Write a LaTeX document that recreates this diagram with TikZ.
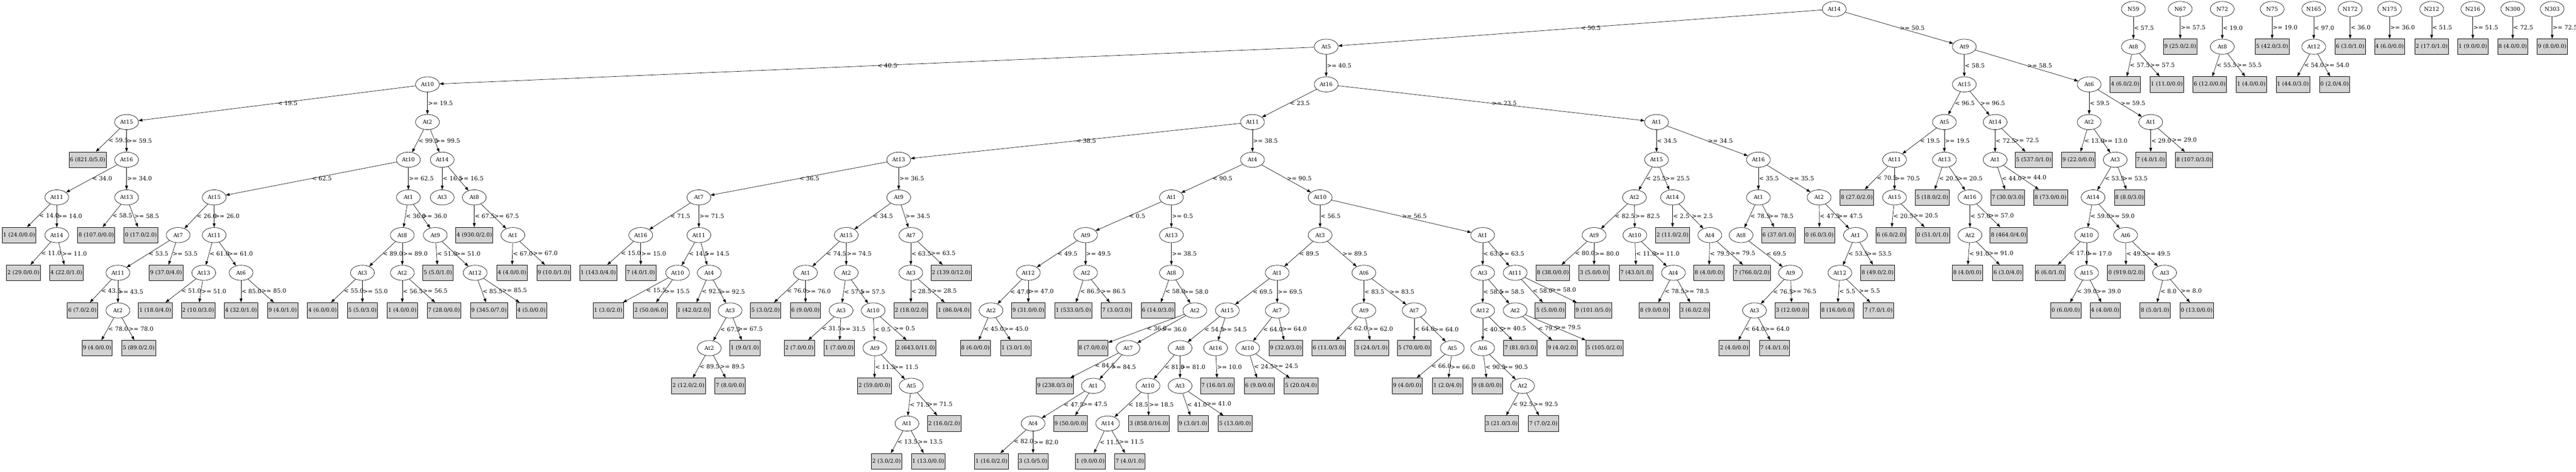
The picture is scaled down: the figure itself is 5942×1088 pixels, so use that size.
\documentclass[tikz,border=0pt]{standalone}
\usepackage{fontspec}
\setmainfont{DejaVu Serif}
\usetikzlibrary{shapes.geometric,arrows.meta}
\definecolor{leafgrey}{RGB}{211,211,211}

\begin{document}
\begin{tikzpicture}[x=1pt,y=1pt,line width=0.8pt,
    >={Triangle[length=9pt,width=6.5pt]},
    every node/.style={font=\fontsize{12.5}{14}\selectfont},
    test/.style={draw,ellipse,minimum width=55pt,minimum height=35pt,inner sep=1pt},
    leaf/.style={draw,fill=leafgrey,minimum height=36pt,inner xsep=2pt,inner ysep=1pt},
    cond/.style={midway,anchor=west,inner sep=1pt,font=\fontsize{13.5}{15}\selectfont}]
    \useasboundingbox (0,0) rectangle (5942,-1088);
    \foreach \id/\x/\lv/\txt in {t/4231/0/At14,tL/3059/1/At5,tR/4531/1/At9,tLL/986/2/At10,tLR/3059/2/At16,
        tLLL/292/3/At15,tLLR/986/3/At2,tLLLR/292/4/At16,tLLLRL/131/5/At11,tLLLRR/292/5/At13,tLLLRLR/131/6/At14,
        tLLRL/942/4/At10,tLLRR/1020/4/At14,tLLRLL/494/5/At15,tLLRLR/942/5/At1,tLLRLLL/411/6/At7,tLLRLLR/494/6/At11,
        tLLRLLLL/272/7/At11,tLLRLLLLR/272/8/At2,tLLRLLRL/470/7/At13,tLLRLLRR/556/7/At6,tLLRLRL/928/6/At8,
        tLLRLRR/1004/6/At9,tLLRLRLL/836/7/At3,tLLRLRLR/928/7/At2,tLLRLRRR/1096/7/At12,tLLRRL/1020/5/At3,
        tLLRRR/1094/5/At8,tLLRRRR/1183/6/At1,
        tLRL/2889/3/At11,tLRR/3821/3/At1,tLRLL/2073/4/At13,tLRLR/2889/4/At4,tLRLLL/1612/5/At7,tLRLLR/2073/5/At9,
        tLRLLLL/1478/6/At16,tLRLLLR/1612/6/At11,tLRLLLRL/1563/7/At10,tLRLLLRR/1636/7/At4,tLRLLLRRR/1684/8/At3,
        tLRLLLRRRL/1636/9/At2,tLRLLRL/1952/6/At15,tLRLLRR/2101/6/At7,tLRLLRLL/1858/7/At1,tLRLLRLR/1952/7/At2,
        tLRLLRLRL/1940/8/At3,tLRLLRLRR/2014/8/At10,tLRLLRLRRL/2018/9/At9,tLRLLRLRRLR/2102/10/At5,
        tLRLLRLRRLRL/2092/11/At1,tLRLLRRL/2101/7/At3,
        tLRLRL/2702/5/At1,tLRLRR/3045/5/At10,tLRLRLL/2504/6/At9,tLRLRLR/2702/6/At13,tLRLRLLL/2372/7/At12,
        tLRLRLLR/2504/7/At2,tLRLRLLLL/2286/8/At2,tLRLRLRR/2702/7/At8,tLRLRLRRR/2756/8/At2,tLRLRLRRRR/2602/9/At7,
        tLRLRLRRRRR/2522/10/At1,tLRLRLRRRRRL/2383/11/At4,tLRLRRL/3045/6/At3,tLRLRRR/3420/6/At1,
        tLRLRRLL/2946/7/At1,tLRLRRLR/3146/7/At6,tLRLRRLLL/2831/8/At15,tLRLRRLLR/2946/8/At7,
        tLRLRRLLLL/2722/9/At8,tLRLRRLLLR/2804/9/At16,tLRLRRLLLLL/2648/10/At10,tLRLRRLLLLR/2722/10/At3,
        tLRLRRLLLLLL/2555/11/At14,tLRLRRLLRL/2878/9/At10,tLRLRRLRL/3146/8/At9,tLRLRRLRR/3262/8/At7,
        tLRLRRLRRR/3350/9/At5,tLRLRRRL/3420/7/At3,tLRLRRRR/3495/7/At11,tLRLRRRLL/3420/8/At12,
        tLRLRRRLR/3495/8/At2,tLRLRRRLLL/3420/9/At6,tLRLRRRLLLR/3512/10/At2,
        tLRRL/3821/4/At15,tLRRR/4056/4/At16,tLRRLL/3770/5/At2,tLRRLR/3858/5/At14,tLRRLLL/3677/6/At9,
        tLRRLLR/3771/6/At10,tLRRLLRR/3860/7/At4,tLRRLRR/3944/6/At4,tLRRRL/4056/5/At1,tLRRRR/4196/5/At2,
        tLRRRLL/4016/6/At8,tLRRRLLL/4130/7/At9,tLRRRLLLL/4047/8/At3,tLRRRRR/4280/6/At1,tLRRRRRL/4244/7/At12,
        tRL/4531/2/At15,tRR/4819/2/At6,tRLL/4485/3/At5,tRLR/4602/3/At14,tRLLL/4370/4/At11,tRLLR/4485/4/At13,
        tRLLLR/4370/5/At15,tRLLRR/4544/5/At16,tRLLRRL/4544/6/At2,tRLRL/4602/4/At1,tRRL/4819/3/At2,
        tRRR/4961/3/At1,tRRLR/4879/4/At3,tRRLRL/4828/5/At14,tRRLRLL/4813/6/At10,tRRLRLR/4903/6/At6,
        tRRLRLLR/4813/7/At15,tRRLRLRR/4993/7/At3,
        nA/4921/0/N59,nAL/4921/1/At8,nB/5029/0/N67,nC/5126/0/N72,nCL/5126/1/At8,nD/5241/0/N75,
        nE/5337/0/N165,nEL/5337/1/At12,nF/5421/0/N172,nG/5512/0/N175,nH/5609/0/N212,nI/5704/0/N216,
        nJ/5796/0/N300,nK/5887/0/N303}
        \node[test] (\id) at (\x,{-20.8-86.9*\lv}) {\txt};
    \foreach \id/\x/\lv/\txt in {tLLLL/202/4/{6 (821.0/5.0)},tLLLRLL/44/6/{1 (24.0/0.0)},
        tLLLRLRL/54/7/{2 (29.0/0.0)},tLLLRLRR/153/7/{4 (22.0/1.0)},tLLLRRL/222/6/{8 (107.0/0.0)},
        tLLLRRR/325/6/{0 (17.0/2.0)},tLLRLLLR/383/7/{9 (37.0/4.0)},tLLRLLLLL/190/8/{6 (7.0/2.0)},
        tLLRLLLLRL/224/9/{9 (4.0/0.0)},tLLRLLLLRR/320/9/{5 (89.0/2.0)},tLLRLLRLL/358/8/{1 (18.0/4.0)},
        tLLRLLRLR/457/8/{2 (10.0/3.0)},tLLRLLRRL/556/8/{4 (32.0/1.0)},tLLRLLRRR/652/8/{9 (4.0/1.0)},
        tLLRLRLLL/744/8/{4 (6.0/0.0)},tLLRLRLLR/836/8/{5 (5.0/3.0)},tLLRLRLRL/928/8/{1 (4.0/0.0)},
        tLLRLRLRR/1024/8/{7 (28.0/0.0)},tLLRLRRL/1010/7/{5 (5.0/1.0)},tLLRLRRRL/1128/8/{9 (345.0/7.0)},
        tLLRLRRRR/1226/8/{4 (5.0/0.0)},tLLRRRL/1094/6/{4 (930.0/2.0)},tLLRRRRL/1181/7/{4 (4.0/0.0)},
        tLLRRRRR/1277/7/{9 (10.0/1.0)},
        tLRLLLLL/1380/7/{1 (143.0/4.0)},tLRLLLLR/1478/7/{7 (4.0/1.0)},tLRLLLRLL/1403/8/{1 (3.0/2.0)},
        tLRLLLRLR/1500/8/{2 (50.0/6.0)},tLRLLLRRL/1599/8/{1 (42.0/2.0)},tLRLLLRRRR/1718/9/{1 (9.0/1.0)},
        tLRLLLRRRLL/1588/10/{2 (12.0/2.0)},tLRLLLRRRLR/1684/10/{7 (8.0/0.0)},tLRLLRLLL/1766/8/{5 (3.0/2.0)},
        tLRLLRLLR/1858/8/{6 (9.0/0.0)},tLRLLRLRLL/1844/9/{2 (7.0/0.0)},tLRLLRLRLR/1936/9/{1 (7.0/0.0)},
        tLRLLRLRRR/2112/9/{2 (643.0/11.0)},tLRLLRLRRLL/2017/10/{2 (59.0/0.0)},
        tLRLLRLRRLRR/2178/11/{2 (16.0/2.0)},tLRLLRLRRLRLL/2045/12/{2 (3.0/2.0)},
        tLRLLRLRRLRLR/2141/12/{1 (13.0/0.0)},tLRLLRRR/2194/7/{2 (139.0/12.0)},tLRLLRRLL/2101/8/{2 (18.0/2.0)},
        tLRLLRRLR/2200/8/{1 (86.0/4.0)},
        tLRLRLLLLL/2250/9/{8 (6.0/0.0)},tLRLRLLLLR/2343/9/{1 (3.0/1.0)},tLRLRLLLR/2372/8/{9 (31.0/0.0)},
        tLRLRLLRL/2476/8/{1 (533.0/5.0)},tLRLRLLRR/2575/8/{7 (3.0/3.0)},tLRLRLRRL/2671/8/{6 (14.0/3.0)},
        tLRLRLRRRL/2521/9/{8 (7.0/0.0)},tLRLRLRRRRL/2433/10/{9 (238.0/3.0)},tLRLRLRRRRRR/2469/11/{9 (50.0/0.0)},
        tLRLRLRRRRRLL/2287/12/{1 (16.0/2.0)},tLRLRLRRRRRLR/2383/12/{3 (3.0/5.0)},
        tLRLRRLLLLLR/2650/11/{3 (858.0/16.0)},tLRLRRLLLLLLL/2515/12/{1 (9.0/0.0)},
        tLRLRRLLLLLLR/2606/12/{7 (4.0/1.0)},tLRLRRLLLLRL/2752/11/{9 (3.0/1.0)},
        tLRLRRLLLLRR/2849/11/{5 (13.0/0.0)},tLRLRRLLLRR/2808/10/{7 (16.0/1.0)},
        tLRLRRLLRR/2966/9/{9 (32.0/3.0)},tLRLRRLLRLL/2905/10/{6 (9.0/0.0)},tLRLRRLLRLR/3001/10/{5 (20.0/4.0)},
        tLRLRRLRLL/3065/9/{6 (11.0/3.0)},tLRLRRLRLR/3164/9/{3 (24.0/1.0)},tLRLRRLRRL/3262/9/{5 (70.0/0.0)},
        tLRLRRLRRRL/3246/10/{9 (4.0/0.0)},tLRLRRLRRRR/3339/10/{1 (2.0/4.0)},tLRLRRRLLR/3507/9/{7 (81.0/3.0)},
        tLRLRRRLLLL/3431/10/{9 (8.0/0.0)},tLRLRRRLLLRL/3464/11/{3 (21.0/3.0)},
        tLRLRRRLLLRR/3560/11/{7 (7.0/2.0)},tLRLRRRRL/3576/8/{5 (5.0/0.0)},tLRLRRRRR/3675/8/{9 (101.0/5.0)},
        tLRLRRRLRL/3603/9/{9 (4.0/2.0)},tLRLRRRLRR/3701/9/{5 (105.0/2.0)},
        tLRRLLLL/3582/7/{8 (38.0/0.0)},tLRRLLLR/3677/7/{3 (5.0/0.0)},tLRRLLRL/3774/7/{7 (43.0/1.0)},
        tLRRLLRRL/3816/8/{8 (9.0/0.0)},tLRRLLRRR/3909/8/{3 (6.0/2.0)},tLRRLRL/3858/6/{2 (11.0/2.0)},
        tLRRLRRL/3942/7/{8 (4.0/0.0)},tLRRLRRR/4041/7/{7 (766.0/2.0)},tLRRRLR/4102/6/{6 (37.0/1.0)},
        tLRRRLLLR/4133/8/{3 (12.0/0.0)},tLRRRLLLLL/4000/9/{2 (4.0/0.0)},tLRRRLLLLR/4093/9/{7 (4.0/1.0)},
        tLRRRRL/4197/6/{0 (6.0/3.0)},tLRRRRRR/4331/7/{8 (49.0/2.0)},tLRRRRRLL/4238/8/{8 (16.0/0.0)},
        tLRRRRRLR/4333/8/{7 (7.0/1.0)},
        tRLLLL/4283/5/{8 (27.0/2.0)},tRLLLRL/4362/6/{6 (6.0/2.0)},tRLLLRR/4458/6/{0 (51.0/1.0)},
        tRLLRL/4457/5/{5 (18.0/2.0)},tRLLRRR/4633/6/{8 (464.0/4.0)},tRLLRRLL/4538/7/{8 (4.0/0.0)},
        tRLLRRLR/4631/7/{6 (3.0/4.0)},tRLRR/4691/4/{5 (537.0/1.0)},tRLRLL/4631/5/{7 (30.0/3.0)},
        tRLRLR/4730/5/{8 (73.0/0.0)},tRRLL/4794/4/{9 (22.0/0.0)},tRRLRR/4912/5/{8 (8.0/3.0)},
        tRRLRLLL/4729/7/{6 (6.0/1.0)},tRRLRLLRL/4765/8/{0 (6.0/0.0)},tRRLRLLRR/4856/8/{4 (4.0/0.0)},
        tRRLRLRL/4904/7/{0 (919.0/2.0)},tRRLRLRRL/4971/8/{8 (5.0/1.0)},tRRLRLRRR/5067/8/{0 (13.0/0.0)},
        tRRRL/4961/4/{7 (4.0/1.0)},tRRRR/5061/4/{8 (107.0/3.0)},
        nALL/4902/2/{4 (6.0/2.0)},nALR/4998/2/{1 (11.0/0.0)},nBR/5029/1/{9 (25.0/2.0)},
        nCLL/5097/2/{6 (12.0/0.0)},nCLR/5193/2/{1 (4.0/0.0)},nDR/5241/1/{5 (42.0/3.0)},
        nELL/5289/2/{1 (44.0/3.0)},nELR/5385/2/{0 (2.0/4.0)},nFL/5421/1/{6 (3.0/1.0)},
        nGR/5512/1/{4 (6.0/0.0)},nHL/5609/1/{2 (17.0/1.0)},nIR/5704/1/{1 (9.0/0.0)},
        nJL/5796/1/{8 (4.0/0.0)},nKR/5887/1/{9 (8.0/0.0)}}
        \node[leaf] (\id) at (\x,{-20.8-86.9*\lv}) {\txt};
    \foreach \from/\side/\cnd in {t/L/{< 50.5},t/R/{>= 50.5},tL/L/{< 40.5},tL/R/{>= 40.5},
        tLL/L/{< 19.5},tLL/R/{>= 19.5},tLLL/L/{< 59.5},tLLL/R/{>= 59.5},tLLLR/L/{< 34.0},tLLLR/R/{>= 34.0},
        tLLLRL/L/{< 14.0},tLLLRL/R/{>= 14.0},tLLLRLR/L/{< 11.0},tLLLRLR/R/{>= 11.0},tLLLRR/L/{< 58.5},
        tLLLRR/R/{>= 58.5},tLLR/L/{< 99.5},tLLR/R/{>= 99.5},tLLRL/L/{< 62.5},tLLRL/R/{>= 62.5},
        tLLRLL/L/{< 26.0},tLLRLL/R/{>= 26.0},tLLRLLL/L/{< 53.5},tLLRLLL/R/{>= 53.5},tLLRLLLL/L/{< 43.5},
        tLLRLLLL/R/{>= 43.5},tLLRLLLLR/L/{< 78.0},tLLRLLLLR/R/{>= 78.0},tLLRLLR/L/{< 61.0},
        tLLRLLR/R/{>= 61.0},tLLRLLRL/L/{< 51.0},tLLRLLRL/R/{>= 51.0},tLLRLLRR/L/{< 85.0},
        tLLRLLRR/R/{>= 85.0},tLLRLR/L/{< 36.0},tLLRLR/R/{>= 36.0},tLLRLRL/L/{< 89.0},tLLRLRL/R/{>= 89.0},
        tLLRLRLL/L/{< 55.0},tLLRLRLL/R/{>= 55.0},tLLRLRLR/L/{< 56.5},tLLRLRLR/R/{>= 56.5},
        tLLRLRR/L/{< 51.0},tLLRLRR/R/{>= 51.0},tLLRLRRR/L/{< 85.5},tLLRLRRR/R/{>= 85.5},
        tLLRR/L/{< 16.5},tLLRR/R/{>= 16.5},tLLRRR/L/{< 67.5},tLLRRR/R/{>= 67.5},tLLRRRR/L/{< 67.0},
        tLLRRRR/R/{>= 67.0},
        tLR/L/{< 23.5},tLR/R/{>= 23.5},tLRL/L/{< 38.5},tLRL/R/{>= 38.5},tLRLL/L/{< 36.5},tLRLL/R/{>= 36.5},
        tLRLLL/L/{< 71.5},tLRLLL/R/{>= 71.5},tLRLLLL/L/{< 15.0},tLRLLLL/R/{>= 15.0},tLRLLLR/L/{< 14.5},
        tLRLLLR/R/{>= 14.5},tLRLLLRL/L/{< 15.5},tLRLLLRL/R/{>= 15.5},tLRLLLRR/L/{< 92.5},
        tLRLLLRR/R/{>= 92.5},tLRLLLRRR/L/{< 67.5},tLRLLLRRR/R/{>= 67.5},tLRLLLRRRL/L/{< 89.5},
        tLRLLLRRRL/R/{>= 89.5},tLRLLR/L/{< 34.5},tLRLLR/R/{>= 34.5},tLRLLRL/L/{< 74.5},tLRLLRL/R/{>= 74.5},
        tLRLLRLL/L/{< 76.0},tLRLLRLL/R/{>= 76.0},tLRLLRLR/L/{< 57.5},tLRLLRLR/R/{>= 57.5},
        tLRLLRLRL/L/{< 31.5},tLRLLRLRL/R/{>= 31.5},tLRLLRLRR/L/{< 0.5},tLRLLRLRR/R/{>= 0.5},
        tLRLLRLRRL/L/{< 11.5},tLRLLRLRRL/R/{>= 11.5},tLRLLRLRRLR/L/{< 71.5},tLRLLRLRRLR/R/{>= 71.5},
        tLRLLRLRRLRL/L/{< 13.5},tLRLLRLRRLRL/R/{>= 13.5},tLRLLRR/L/{< 63.5},tLRLLRR/R/{>= 63.5},
        tLRLLRRL/L/{< 28.5},tLRLLRRL/R/{>= 28.5},
        tLRLR/L/{< 90.5},tLRLR/R/{>= 90.5},tLRLRL/L/{< 0.5},tLRLRL/R/{>= 0.5},tLRLRLL/L/{< 49.5},
        tLRLRLL/R/{>= 49.5},tLRLRLLL/L/{< 47.0},tLRLRLLL/R/{>= 47.0},tLRLRLLLL/L/{< 45.0},
        tLRLRLLLL/R/{>= 45.0},tLRLRLLR/L/{< 86.5},tLRLRLLR/R/{>= 86.5},tLRLRLR/R/{>= 38.5},
        tLRLRLRR/L/{< 58.0},tLRLRLRR/R/{>= 58.0},tLRLRLRRR/L/{< 36.0},tLRLRLRRR/R/{>= 36.0},
        tLRLRLRRRR/L/{< 84.5},tLRLRLRRRR/R/{>= 84.5},tLRLRLRRRRR/L/{< 47.5},tLRLRLRRRRR/R/{>= 47.5},
        tLRLRLRRRRRL/L/{< 82.0},tLRLRLRRRRRL/R/{>= 82.0},tLRLRR/L/{< 56.5},tLRLRR/R/{>= 56.5},
        tLRLRRL/L/{< 89.5},tLRLRRL/R/{>= 89.5},tLRLRRLL/L/{< 69.5},tLRLRRLL/R/{>= 69.5},
        tLRLRRLLL/L/{< 54.5},tLRLRRLLL/R/{>= 54.5},tLRLRRLLLL/L/{< 81.0},tLRLRRLLLL/R/{>= 81.0},
        tLRLRRLLLLL/L/{< 18.5},tLRLRRLLLLL/R/{>= 18.5},tLRLRRLLLLLL/L/{< 11.5},tLRLRRLLLLLL/R/{>= 11.5},
        tLRLRRLLLLR/L/{< 41.0},tLRLRRLLLLR/R/{>= 41.0},tLRLRRLLLR/R/{>= 10.0},tLRLRRLLR/L/{< 64.0},
        tLRLRRLLR/R/{>= 64.0},tLRLRRLLRL/L/{< 24.5},tLRLRRLLRL/R/{>= 24.5},tLRLRRLR/L/{< 83.5},
        tLRLRRLR/R/{>= 83.5},tLRLRRLRL/L/{< 62.0},tLRLRRLRL/R/{>= 62.0},tLRLRRLRR/L/{< 64.0},
        tLRLRRLRR/R/{>= 64.0},tLRLRRLRRR/L/{< 66.0},tLRLRRLRRR/R/{>= 66.0},tLRLRRR/L/{< 63.5},
        tLRLRRR/R/{>= 63.5},tLRLRRRL/L/{< 58.5},tLRLRRRL/R/{>= 58.5},tLRLRRRLL/L/{< 40.5},
        tLRLRRRLL/R/{>= 40.5},tLRLRRRLLL/L/{< 90.5},tLRLRRRLLL/R/{>= 90.5},tLRLRRRLLLR/L/{< 92.5},
        tLRLRRRLLLR/R/{>= 92.5},tLRLRRRR/L/{< 58.0},tLRLRRRR/R/{>= 58.0},tLRLRRRLR/L/{< 79.5},
        tLRLRRRLR/R/{>= 79.5},
        tLRR/L/{< 34.5},tLRR/R/{>= 34.5},tLRRL/L/{< 25.5},tLRRL/R/{>= 25.5},tLRRLL/L/{< 82.5},
        tLRRLL/R/{>= 82.5},tLRRLLL/L/{< 80.0},tLRRLLL/R/{>= 80.0},tLRRLLR/L/{< 11.0},tLRRLLR/R/{>= 11.0},
        tLRRLLRR/L/{< 78.5},tLRRLLRR/R/{>= 78.5},tLRRLR/L/{< 2.5},tLRRLR/R/{>= 2.5},tLRRLRR/L/{< 79.5},
        tLRRLRR/R/{>= 79.5},tLRRR/L/{< 35.5},tLRRR/R/{>= 35.5},tLRRRL/L/{< 78.5},tLRRRL/R/{>= 78.5},
        tLRRRLL/L/{< 69.5},tLRRRLLL/L/{< 76.5},tLRRRLLL/R/{>= 76.5},tLRRRLLLL/L/{< 64.0},
        tLRRRLLLL/R/{>= 64.0},tLRRRR/L/{< 47.5},tLRRRR/R/{>= 47.5},tLRRRRR/L/{< 53.5},tLRRRRR/R/{>= 53.5},
        tLRRRRRL/L/{< 5.5},tLRRRRRL/R/{>= 5.5},
        tR/L/{< 58.5},tR/R/{>= 58.5},tRL/L/{< 96.5},tRL/R/{>= 96.5},tRLL/L/{< 19.5},tRLL/R/{>= 19.5},
        tRLLL/L/{< 70.5},tRLLL/R/{>= 70.5},tRLLLR/L/{< 20.5},tRLLLR/R/{>= 20.5},tRLLR/L/{< 20.5},
        tRLLR/R/{>= 20.5},tRLLRR/L/{< 57.0},tRLLRR/R/{>= 57.0},tRLLRRL/L/{< 91.0},tRLLRRL/R/{>= 91.0},
        tRLR/L/{< 72.5},tRLR/R/{>= 72.5},tRLRL/L/{< 44.0},tRLRL/R/{>= 44.0},tRR/L/{< 59.5},tRR/R/{>= 59.5},
        tRRL/L/{< 13.0},tRRL/R/{>= 13.0},tRRLR/L/{< 53.5},tRRLR/R/{>= 53.5},tRRLRL/L/{< 59.0},
        tRRLRL/R/{>= 59.0},tRRLRLL/L/{< 17.0},tRRLRLL/R/{>= 17.0},tRRLRLLR/L/{< 39.0},
        tRRLRLLR/R/{>= 39.0},tRRLRLR/L/{< 49.5},tRRLRLR/R/{>= 49.5},tRRLRLRR/L/{< 8.0},
        tRRLRLRR/R/{>= 8.0},tRRR/L/{< 29.0},tRRR/R/{>= 29.0},
        nA/L/{< 57.5},nAL/L/{< 57.5},nAL/R/{>= 57.5},nB/R/{>= 57.5},nC/L/{< 19.0},nCL/L/{< 55.5},
        nCL/R/{>= 55.5},nD/R/{>= 19.0},nE/L/{< 97.0},nEL/L/{< 54.0},nEL/R/{>= 54.0},nF/L/{< 36.0},
        nG/R/{>= 36.0},nH/L/{< 51.5},nI/R/{>= 51.5},nJ/L/{< 72.5},nK/R/{>= 72.5}}
        \draw[->] (\from) -- node[cond] {\cnd} (\from\side);
\end{tikzpicture}
\end{document}
